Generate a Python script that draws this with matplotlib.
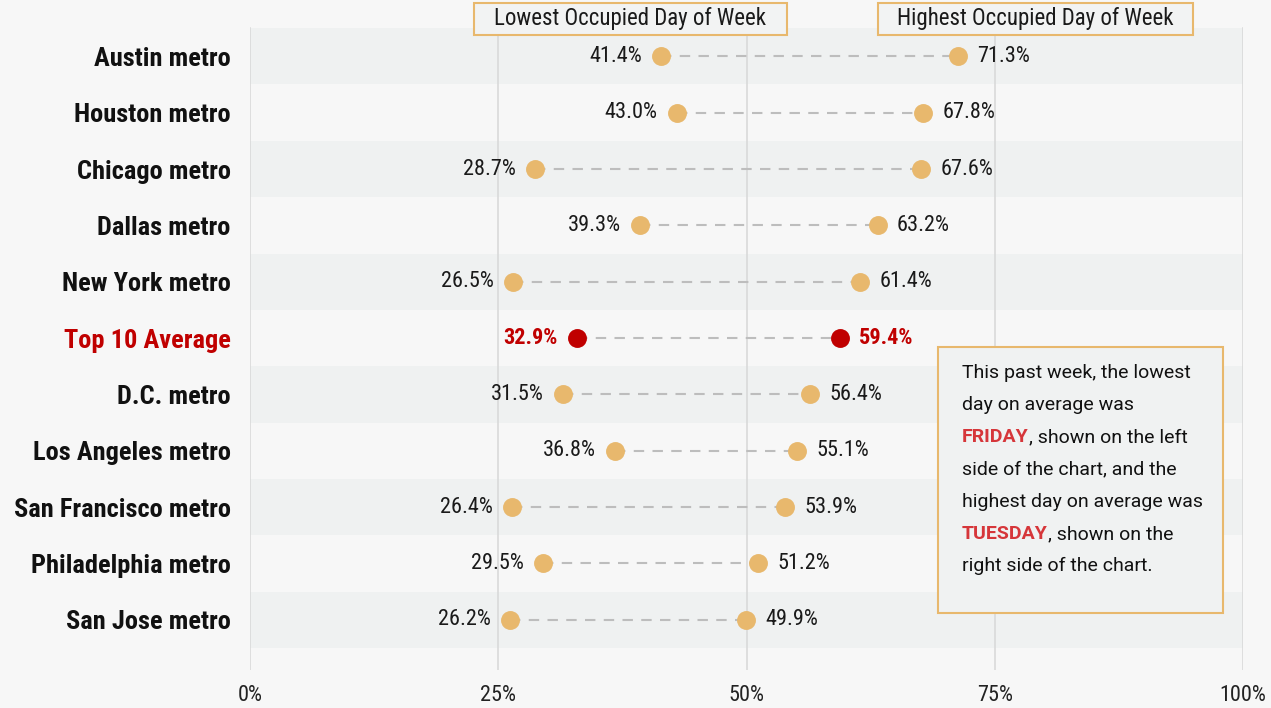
import matplotlib.pyplot as plt
from matplotlib.patches import Rectangle
from matplotlib.text import Annotation

metros = ["Austin metro", "Houston metro", "Chicago metro", "Dallas metro",
          "New York metro", "Top 10 Average", "D.C. metro", "Los Angeles metro",
          "San Francisco metro", "Philadelphia metro", "San Jose metro"]
lowest = [41.4, 43.0, 28.7, 39.3, 26.5, 32.9, 31.5, 36.8, 26.4, 29.5, 26.2]
highest = [71.3, 67.8, 67.6, 63.2, 61.4, 59.4, 56.4, 55.1, 53.9, 51.2, 49.9]
xticks = [0, 25, 50, 75, 100]
xtick_labels = ["0%", "25%", "50%", "75%", "100%"]

cond = "Roboto Condensed"
body = "Roboto"

orange = "#e8b86d"
red = "#c00000"
red_txt = "#d6363a"
bg = "#f7f7f7"
band = "#eff1f1"

fig = plt.figure(figsize=(12.71, 7.08), dpi=100, facecolor=bg)
ax = fig.add_axes([250 / 1271, 1 - 670 / 708, 993 / 1271, 643 / 708])
ax.set_facecolor(bg)
ax.set_xlim(0, 100)
ax.set_ylim(10.89, -0.52)

# alternating bands
for i in range(len(metros)):
    if i % 2 == 0:
        ax.axhspan(i - 0.5, i + 0.5, color=band, zorder=0, lw=0)

for x in xticks:
    ax.axvline(x, ymax=(10.89 + 0.5) / (10.89 + 0.52), color="#d9d9d9", lw=1.2, zorder=1)

for i, (lo, hi) in enumerate(zip(lowest, highest)):
    avg = metros[i] == "Top 10 Average"
    c = red if avg else orange
    ax.plot([lo, hi], [i, i], ls=(0, (5, 4)), color="#bdbdbd", lw=1.5, zorder=2)
    ax.scatter([lo, hi], [i, i], s=185, color=c, zorder=3, lw=0)
    kw = dict(fontsize=16, family=cond, va="center",
              color=red if avg else "#1a1a1a",
              fontweight="bold" if avg else "normal")
    ax.annotate(f"{lo:.1f}%", (lo, i), xytext=(-14, 0), textcoords="offset points",
                ha="right", **kw)
    ax.annotate(f"{hi:.1f}%", (hi, i), xytext=(14, 0), textcoords="offset points",
                ha="left", **kw)

ax.set_yticks(range(len(metros)))
ax.set_yticklabels(metros, fontsize=19, fontweight="bold", family=cond)
for lab in ax.get_yticklabels():
    lab.set_color(red if lab.get_text() == "Top 10 Average" else "#111111")
ax.set_xticks(xticks)
ax.set_xticklabels(xtick_labels, fontsize=16, family=cond, color="#222222")
ax.tick_params(length=0, axis="y", pad=14)
ax.tick_params(length=0, axis="x", pad=11)
for s in ax.spines.values():
    s.set_visible(False)

# header boxes
for txt, x0, x1 in [("Lowest Occupied Day of Week", 474, 787),
                    ("Highest Occupied Day of Week", 878, 1193)]:
    fig.patches.append(Rectangle((x0 / 1271, 1 - 35 / 708), (x1 - x0) / 1271, 32 / 708,
                                 transform=fig.transFigure, facecolor="#f2f3f3",
                                 edgecolor=orange, lw=1.5))
    fig.text((x0 + x1) / 2 / 1271, 1 - 19 / 708, txt, ha="center", va="center",
             fontsize=16.5, family=cond, color="#1a1a1a")

# callout box
fig.patches.append(Rectangle((938 / 1271, 1 - 613 / 708), 285 / 1271, 266 / 708,
                             transform=fig.transFigure, facecolor="#f0f2f2",
                             edgecolor=orange, lw=1.5, zorder=5))
lines = [[("This past week, the lowest", None)],
         [("day on average was", None)],
         [("FRIDAY", red_txt), (", shown on the left", None)],
         [("side of the chart, and the", None)],
         [("highest day on average was", None)],
         [("TUESDAY", red_txt), (", shown on the", None)],
         [("right side of the chart.", None)]]
for k, parts in enumerate(lines):
    y = 1 - (373 + k * 32.2) / 708
    prev = None
    for txt, col in parts:
        kw = dict(fontsize=14, family=body, zorder=6,
                  color=col if col else "#111111",
                  fontweight="bold" if col else "normal")
        if prev is None:
            prev = fig.text(962 / 1271, y, txt, ha="left", va="center", **kw)
        else:
            nxt = Annotation(txt, xy=(1, 0), xycoords=prev, ha="left", va="bottom",
                             annotation_clip=False, **kw)
            fig.add_artist(nxt)
            prev = nxt

fig.savefig("out.png", dpi=100, facecolor=bg)
